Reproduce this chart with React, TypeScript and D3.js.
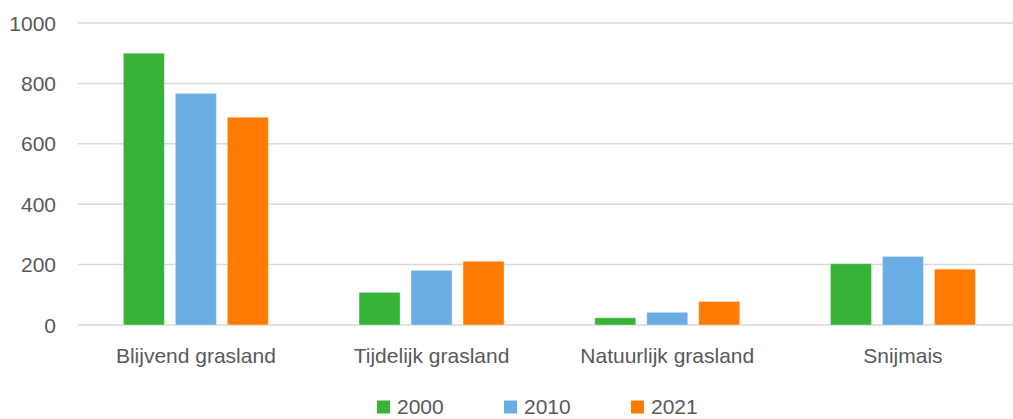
import React, { useEffect, useRef } from 'react';
import * as d3 from 'd3';

const categories = ['Blijvend grasland', 'Tijdelijk grasland', 'Natuurlijk grasland', 'Snijmais'];
const series = ['2000', '2010', '2021'];
const values2000 = [900, 108, 24, 203];
const values2010 = [767, 181, 42, 227];
const values2021 = [688, 211, 78, 185];
const yTicks = [0, 200, 400, 600, 800, 1000];
const colors = ['#37b337', '#6aade4', '#ff7c00'];

export default function App() {
    const ref = useRef<SVGSVGElement>(null);
    const width = 1013;
    const height = 419;
    const font = '"Liberation Sans", Arial, sans-serif';
    const textColor = '#595959';

    useEffect(() => {
        const svg = d3.select(ref.current);
        svg.selectAll('*').remove();

        const rows = [values2000, values2010, values2021];

        const x = d3.scaleBand()
            .domain(categories)
            .range([78, 78 + 4 * 235.7])
            .paddingInner(0.385)
            .paddingOuter(0.1925);

        const xInner = d3.scaleBand()
            .domain(series)
            .range([0, x.bandwidth()])
            .paddingInner(0.2115)
            .paddingOuter(0);

        const y = d3.scaleLinear().domain([0, 1000]).range([325, 23]);

        // gridlines
        svg.append('g')
            .selectAll('line')
            .data(yTicks)
            .join('line')
            .attr('x1', 78)
            .attr('x2', width)
            .attr('y1', d => y(d))
            .attr('y2', d => y(d))
            .attr('stroke', '#d9d9d9')
            .attr('stroke-width', 1.5);

        // y labels
        svg.append('g')
            .selectAll('text')
            .data(yTicks)
            .join('text')
            .attr('x', 56)
            .attr('y', d => y(d))
            .attr('dy', '0.36em')
            .attr('text-anchor', 'end')
            .style('font-family', font)
            .style('font-size', '21px')
            .style('fill', textColor)
            .text(d => d);

        // bars
        series.forEach((s, si) => {
            svg.append('g')
                .selectAll('rect')
                .data(categories)
                .join('rect')
                .attr('x', c => (x(c) as number) + (xInner(s) as number))
                .attr('y', (c, i) => y(rows[si][i]))
                .attr('width', xInner.bandwidth())
                .attr('height', (c, i) => y(0) - y(rows[si][i]))
                .attr('fill', colors[si])
                .attr('stroke', 'rgba(255,255,255,0.35)')
                .attr('stroke-width', 1);
        });

        // category labels
        svg.append('g')
            .selectAll('text')
            .data(categories)
            .join('text')
            .attr('x', c => (x(c) as number) + x.bandwidth() / 2)
            .attr('y', 363)
            .attr('text-anchor', 'middle')
            .style('font-family', font)
            .style('font-size', '21px')
            .style('fill', textColor)
            .text(c => c);

        // legend, kept just inside the bottom edge
        const legend = svg.append('g')
            .selectAll('g')
            .data(series)
            .join('g')
            .attr('transform', (d, i) => `translate(${377 + i * 127},400)`);

        legend.append('rect')
            .attr('y', 0.5)
            .attr('width', 13)
            .attr('height', 13)
            .attr('fill', (d, i) => colors[i]);

        legend.append('text')
            .attr('x', 20)
            .attr('y', 14)
            .style('font-family', font)
            .style('font-size', '21px')
            .style('fill', textColor)
            .text(d => d);
    }, []);

    return (
        <svg
            ref={ref}
            width={width}
            height={height}
            style={{ position: 'absolute', left: 0, top: 0, background: '#fff' }}
        ></svg>
    );
}
